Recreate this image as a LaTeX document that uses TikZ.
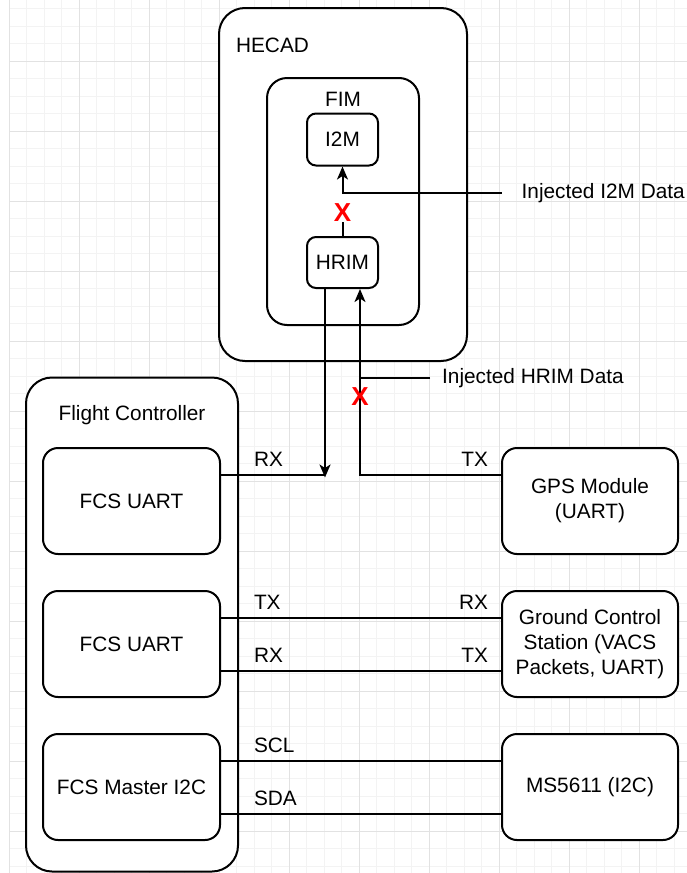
\documentclass[tikz,border=0pt]{standalone}
\usepackage{fontspec}
\setmainfont{Liberation Sans}
\usetikzlibrary{arrows.meta,positioning,calc}
\definecolor{gridminor}{RGB}{243,243,243}
\definecolor{gridmajor}{RGB}{226,226,226}
\newcommand{\diafont}{\fontsize{20.8}{25}\selectfont}
\tikzset{
  minorline/.style={draw=gridminor,line width=1pt},
  majorline/.style={draw=gridmajor,line width=1pt},
  container/.style={
    draw,
    fill=white,
    rectangle,
    line width=2pt,
    rounded corners=26pt
  },
  unitbox/.style={
    draw,
    fill=white,
    rectangle,
    rounded corners=15pt,
    line width=2pt,
    minimum width=177pt,
    minimum height=106pt,
    align=center,
    font=\diafont
  },
  modbox/.style={
    draw,
    fill=white,
    rectangle,
    rounded corners=9pt,
    line width=2pt,
    minimum width=71pt,
    minimum height=52pt,
    align=center,
    font=\diafont
  },
  title/.style={font=\diafont,inner sep=0pt},
  sig/.style={font=\diafont,inner sep=7pt},
  note/.style={font=\diafont,inner ysep=3pt},
  cross/.style={text=red,font=\fontsize{26}{26}\selectfont\bfseries,inner sep=0pt},
  wire/.style={line width=2pt},
  flow/.style={-{Stealth[length=13pt,width=11pt,inset=3.5pt]},line width=2pt}
}

\begin{document}
\begin{tikzpicture}[x=1pt,y=-1pt]
\useasboundingbox (0,0) rectangle (687,873);
\fill[white] (0,0) rectangle (687,873);
\foreach \gx in {9,26.5,...,690} \draw[minorline] (\gx,0) -- (\gx,873);
\foreach \gy in {8.5,26,...,875} \draw[minorline] (9,\gy) -- (687,\gy);
\foreach \gx in {9,79,...,690} \draw[majorline] (\gx,0) -- (\gx,873);
\foreach \gy in {61,131,...,875} \draw[majorline] (9,\gy) -- (687,\gy);

\node[container, minimum width=248pt, minimum height=353pt] (hecad) at (343,184.5) {};
\node[title] (hecadname) at (272.5,45) {HECAD};
\node[container, rounded corners=20pt, minimum width=152pt, minimum height=247pt] (fim) at (343,201.5) {};
\node[title] (fimname) at (343,99) {FIM};
\node[modbox] (i2m) at (342.5,139.5) {I2M};
\node[modbox, minimum height=51pt] (hrim) at (342.5,262.5) {HRIM};

\node[container, minimum width=212pt, minimum height=494pt] (fc) at (132,624.5) {};
\node[title] (fcname) at (132,415) {Flight Controller};
\node[unitbox] (uart1) at (131.5,501) {FCS UART};
\node[unitbox, below=35pt of uart1] (uart2) {FCS UART};
\node[unitbox, below=35pt of uart2] (i2c) {FCS Master I2C};

\node[unitbox, minimum width=176pt] (gps) at (590,501) {GPS Module\\(UART)};
\node[unitbox, minimum width=176pt, below=35pt of gps] (gcs) {Ground Control\\Station (VACS\\Packets, UART)};
\node[unitbox, minimum width=176pt, below=35pt of gcs] (ms) {MS5611 (I2C)};

\node[note, anchor=west, inner xsep=20pt] (inj1) at (501.5,193) {Injected I2M Data};
\node[note, anchor=west, inner xsep=12pt] (inj2) at (430,378) {Injected HRIM Data};
\node[cross] (x1) at (342.5,212.5) {X};

\coordinate (hrimout) at ([xshift=-17.5pt]hrim.south);
\coordinate (hrimin) at ([xshift=17.5pt]hrim.south);
\coordinate (rxjoin) at (325,474.5);

\draw[wire] (hrim.north) -- (x1.south);
\draw[flow] (inj1.west) -| (i2m.south);
\draw[wire] ([yshift=26.5pt]uart1.east) -- node[sig, pos=0, anchor=south west, xshift=25pt] (rx1) {RX} (rxjoin);
\draw[flow] (hrimout) -- ([yshift=-3pt]rxjoin);
\draw[flow] ([yshift=26.5pt]gps.west) -| node[sig, pos=0, anchor=south east, xshift=-5pt] (tx1) {TX} (hrimin);
\draw[wire] (inj2.west) -- (inj2.west -| hrimin);
\node[cross] (x2) at (360,397) {X};

\draw[wire] ([yshift=26.5pt]uart2.east) -- node[sig, pos=0, anchor=south west, xshift=25pt] (tx2) {TX} node[sig, pos=1, anchor=south east, xshift=-5pt] (rx3) {RX} ([yshift=26.5pt]gcs.west);
\draw[wire] ([yshift=-26.5pt]uart2.east) -- node[sig, pos=0, anchor=south west, xshift=25pt] (rx2) {RX} node[sig, pos=1, anchor=south east, xshift=-5pt] (tx3) {TX} ([yshift=-26.5pt]gcs.west);
\draw[wire] ([yshift=26.5pt]i2c.east) -- node[sig, pos=0, anchor=south west, xshift=25pt] (scl) {SCL} ([yshift=26.5pt]ms.west);
\draw[wire] ([yshift=-26.5pt]i2c.east) -- node[sig, pos=0, anchor=south west, xshift=25pt] (sda) {SDA} ([yshift=-26.5pt]ms.west);
\end{tikzpicture}
\end{document}
